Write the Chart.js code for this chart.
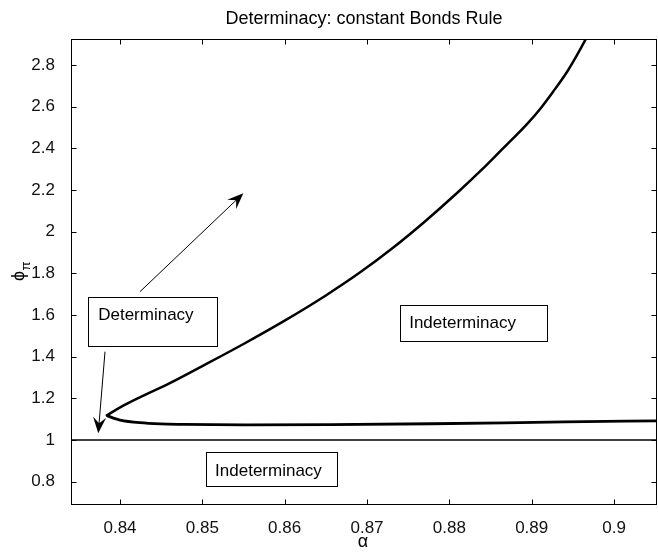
<!DOCTYPE html>
<html>
<head>
<meta charset="utf-8">
<title>Determinacy: constant Bonds Rule</title>
<script src="https://cdn.jsdelivr.net/npm/chart.js@4.4.1/dist/chart.umd.min.js"></script>
<style>
  html, body { margin: 0; padding: 0; background: #fff; }
  #wrap { width: 658px; height: 553px; }
</style>
</head>
<body>
<div id="wrap"><canvas id="chart" width="658" height="553"></canvas></div>
<script>
// Axis ranges and tick values
const alphaRange = [0.83405, 0.90522];
const phiRange = [0.688, 2.925];
const alphaTicks = [0.84, 0.85, 0.86, 0.87, 0.88, 0.89, 0.9];
const phiTicks = [0.8, 1, 1.2, 1.4, 1.6, 1.8, 2, 2.2, 2.4, 2.6, 2.8];

// Upper determinacy boundary
const upperAlpha = [0.8383, 0.8388, 0.8404, 0.8424, 0.8460, 0.8500, 0.8550, 0.8600, 0.8650, 0.8690, 0.8730,
  0.8770, 0.8810, 0.8840, 0.8864, 0.8878, 0.8894, 0.8910, 0.8926, 0.8943, 0.8955, 0.8965, 0.8970];
const upperPhi = [1.115, 1.128, 1.165, 1.205, 1.272, 1.355, 1.461, 1.573, 1.694, 1.800, 1.918,
  2.048, 2.188, 2.300, 2.395, 2.450, 2.515, 2.588, 2.672, 2.768, 2.848, 2.920, 2.958];

// Lower determinacy boundary
const lowerAlpha = [0.8384, 0.8392, 0.8400, 0.8424, 0.8449, 0.8477, 0.8550, 0.8656, 0.8778, 0.8867, 0.8940, 0.9052];
const lowerPhi = [1.118, 1.105, 1.096, 1.083, 1.077, 1.075, 1.073, 1.074, 1.078, 1.082, 1.087, 1.092];

// Taylor-principle reference line
const refAlpha = [0.834, 0.906];
const refPhi = [1, 1];

// Region labels
const regionText = ['Determinacy', 'Indeterminacy', 'Indeterminacy'];
const regionBoxAlpha = [[0.83615, 0.85175], [0.87401, 0.89190], [0.85041, 0.86640]];
const regionBoxPhi = [[1.688, 1.451], [1.648, 1.475], [0.941, 0.781]];
const regionTextAt = [[0.83735, 1.600], [0.87512, 1.562], [0.85155, 0.851]];

// Arrows (from -> to)
const arrowFrom = [[0.84243, 1.712], [0.83818, 1.424]];
const arrowTo = [[0.85498, 2.184], [0.83736, 1.032]];

const FONT = "'Liberation Sans', Arial, Helvetica, sans-serif";
const pts = (xs, ys) => xs.map((v, i) => ({ x: v, y: ys[i] }));

const decorations = {
  id: 'decorations',
  afterDatasetsDraw(chart) {
    const { ctx, chartArea: a, scales } = chart;
    const sx = scales.x, sy = scales.y;
    const px = v => sx.getPixelForValue(v);
    const py = v => sy.getPixelForValue(v);
    ctx.save();

    // text boxes
    ctx.strokeStyle = '#000';
    ctx.lineWidth = 1;
    ctx.fillStyle = '#000';
    ctx.font = '17px ' + FONT;
    ctx.textBaseline = 'middle';
    ctx.textAlign = 'left';
    regionText.forEach((t, i) => {
      const x0 = Math.round(px(regionBoxAlpha[i][0])) + 0.5;
      const x1 = Math.round(px(regionBoxAlpha[i][1])) + 0.5;
      const y0 = Math.round(py(regionBoxPhi[i][0])) + 0.5;
      const y1 = Math.round(py(regionBoxPhi[i][1])) + 0.5;
      ctx.strokeRect(x0, y0, x1 - x0, y1 - y0);
      ctx.fillText(t, px(regionTextAt[i][0]), py(regionTextAt[i][1]));
    });

    // arrows
    arrowFrom.forEach((f, i) => {
      const x0 = px(f[0]), y0 = py(f[1]);
      const x1 = px(arrowTo[i][0]), y1 = py(arrowTo[i][1]);
      const ang = Math.atan2(y1 - y0, x1 - x0);
      const c = Math.cos(ang), s = Math.sin(ang);
      const L = 16, W = 6.5, N = 10;
      ctx.lineWidth = 1;
      ctx.beginPath();
      ctx.moveTo(x0, y0);
      ctx.lineTo(x1 - N * c, y1 - N * s);
      ctx.stroke();
      ctx.beginPath();
      ctx.moveTo(x1, y1);
      ctx.lineTo(x1 - L * c - W * s, y1 - L * s + W * c);
      ctx.lineTo(x1 - N * c, y1 - N * s);
      ctx.lineTo(x1 - L * c + W * s, y1 - L * s - W * c);
      ctx.closePath();
      ctx.fill();
    });

    // axes box with inward ticks
    ctx.lineWidth = 1;
    ctx.strokeStyle = '#000';
    const L = Math.round(a.left) + 0.5, R = Math.round(a.right) - 0.5;
    const T = Math.round(a.top) + 0.5, B = Math.round(a.bottom) - 0.5;
    ctx.strokeRect(L, T, R - L, B - T);
    const tl = 5;
    ctx.beginPath();
    alphaTicks.forEach(v => {
      const x = Math.round(px(v)) + 0.5;
      ctx.moveTo(x, B); ctx.lineTo(x, B - tl);
      ctx.moveTo(x, T); ctx.lineTo(x, T + tl);
    });
    phiTicks.forEach(v => {
      const y = Math.round(py(v)) + 0.5;
      ctx.moveTo(L, y); ctx.lineTo(L + tl, y);
      ctx.moveTo(R, y); ctx.lineTo(R - tl, y);
    });
    ctx.stroke();
    ctx.restore();
  },
  afterDraw(chart) {
    const { ctx, chartArea: a } = chart;
    ctx.save();
    ctx.fillStyle = '#000';
    ctx.textAlign = 'center';
    ctx.textBaseline = 'middle';
    // title
    ctx.font = '18px ' + FONT;
    ctx.fillText('Determinacy: constant Bonds Rule', (a.left + a.right) / 2, 19);
    // x axis title
    ctx.font = '18px ' + FONT;
    ctx.fillText('\u03B1', (a.left + a.right) / 2 - 1, 542);
    // y axis title: phi with subscript pi
    ctx.translate(19, (a.top + a.bottom) / 2 + 4);
    ctx.rotate(-Math.PI / 2);
    ctx.font = '18px ' + FONT;
    ctx.fillText('\u03D5', 0, 0);
    ctx.font = '13px ' + FONT;
    ctx.fillText('\u03C0', 10, 7);
    ctx.restore();
  }
};

const tickFmt = v => String(Number(v.toFixed(2)));

new Chart(document.getElementById('chart'), {
  type: 'scatter',
  data: {
    datasets: [
      { data: pts(upperAlpha, upperPhi), showLine: true, borderColor: '#000', borderWidth: 2.5,
        pointRadius: 0, cubicInterpolationMode: 'monotone' },
      { data: pts(lowerAlpha, lowerPhi), showLine: true, borderColor: '#000', borderWidth: 2.8,
        pointRadius: 0, cubicInterpolationMode: 'monotone' },
      { data: pts(refAlpha, refPhi), showLine: true, borderColor: '#000', borderWidth: 1.4,
        pointRadius: 0 }
    ]
  },
  options: {
    responsive: false,
    animation: false,
    devicePixelRatio: 1,
    layout: { padding: { top: 39, right: 1, left: 0, bottom: 0 } },
    plugins: { legend: { display: false }, title: { display: false }, tooltip: { enabled: false } },
    scales: {
      x: {
        type: 'linear',
        min: alphaRange[0], max: alphaRange[1],
        grid: { display: false }, border: { display: false },
        afterBuildTicks: s => { s.ticks = alphaTicks.map(v => ({ value: v })); },
        afterFit: s => { s.height = 48; },
        ticks: { callback: tickFmt, color: '#111', padding: 5, maxRotation: 0,
                 font: { family: FONT, size: 17 } }
      },
      y: {
        type: 'linear',
        min: phiRange[0], max: phiRange[1],
        grid: { display: false }, border: { display: false },
        afterBuildTicks: s => { s.ticks = phiTicks.map(v => ({ value: v })); },
        afterFit: s => { s.width = 71; },
        ticks: { callback: tickFmt, color: '#111', padding: 8,
                 font: { family: FONT, size: 17 } }
      }
    }
  },
  plugins: [decorations]
});
</script>
</body>
</html>
